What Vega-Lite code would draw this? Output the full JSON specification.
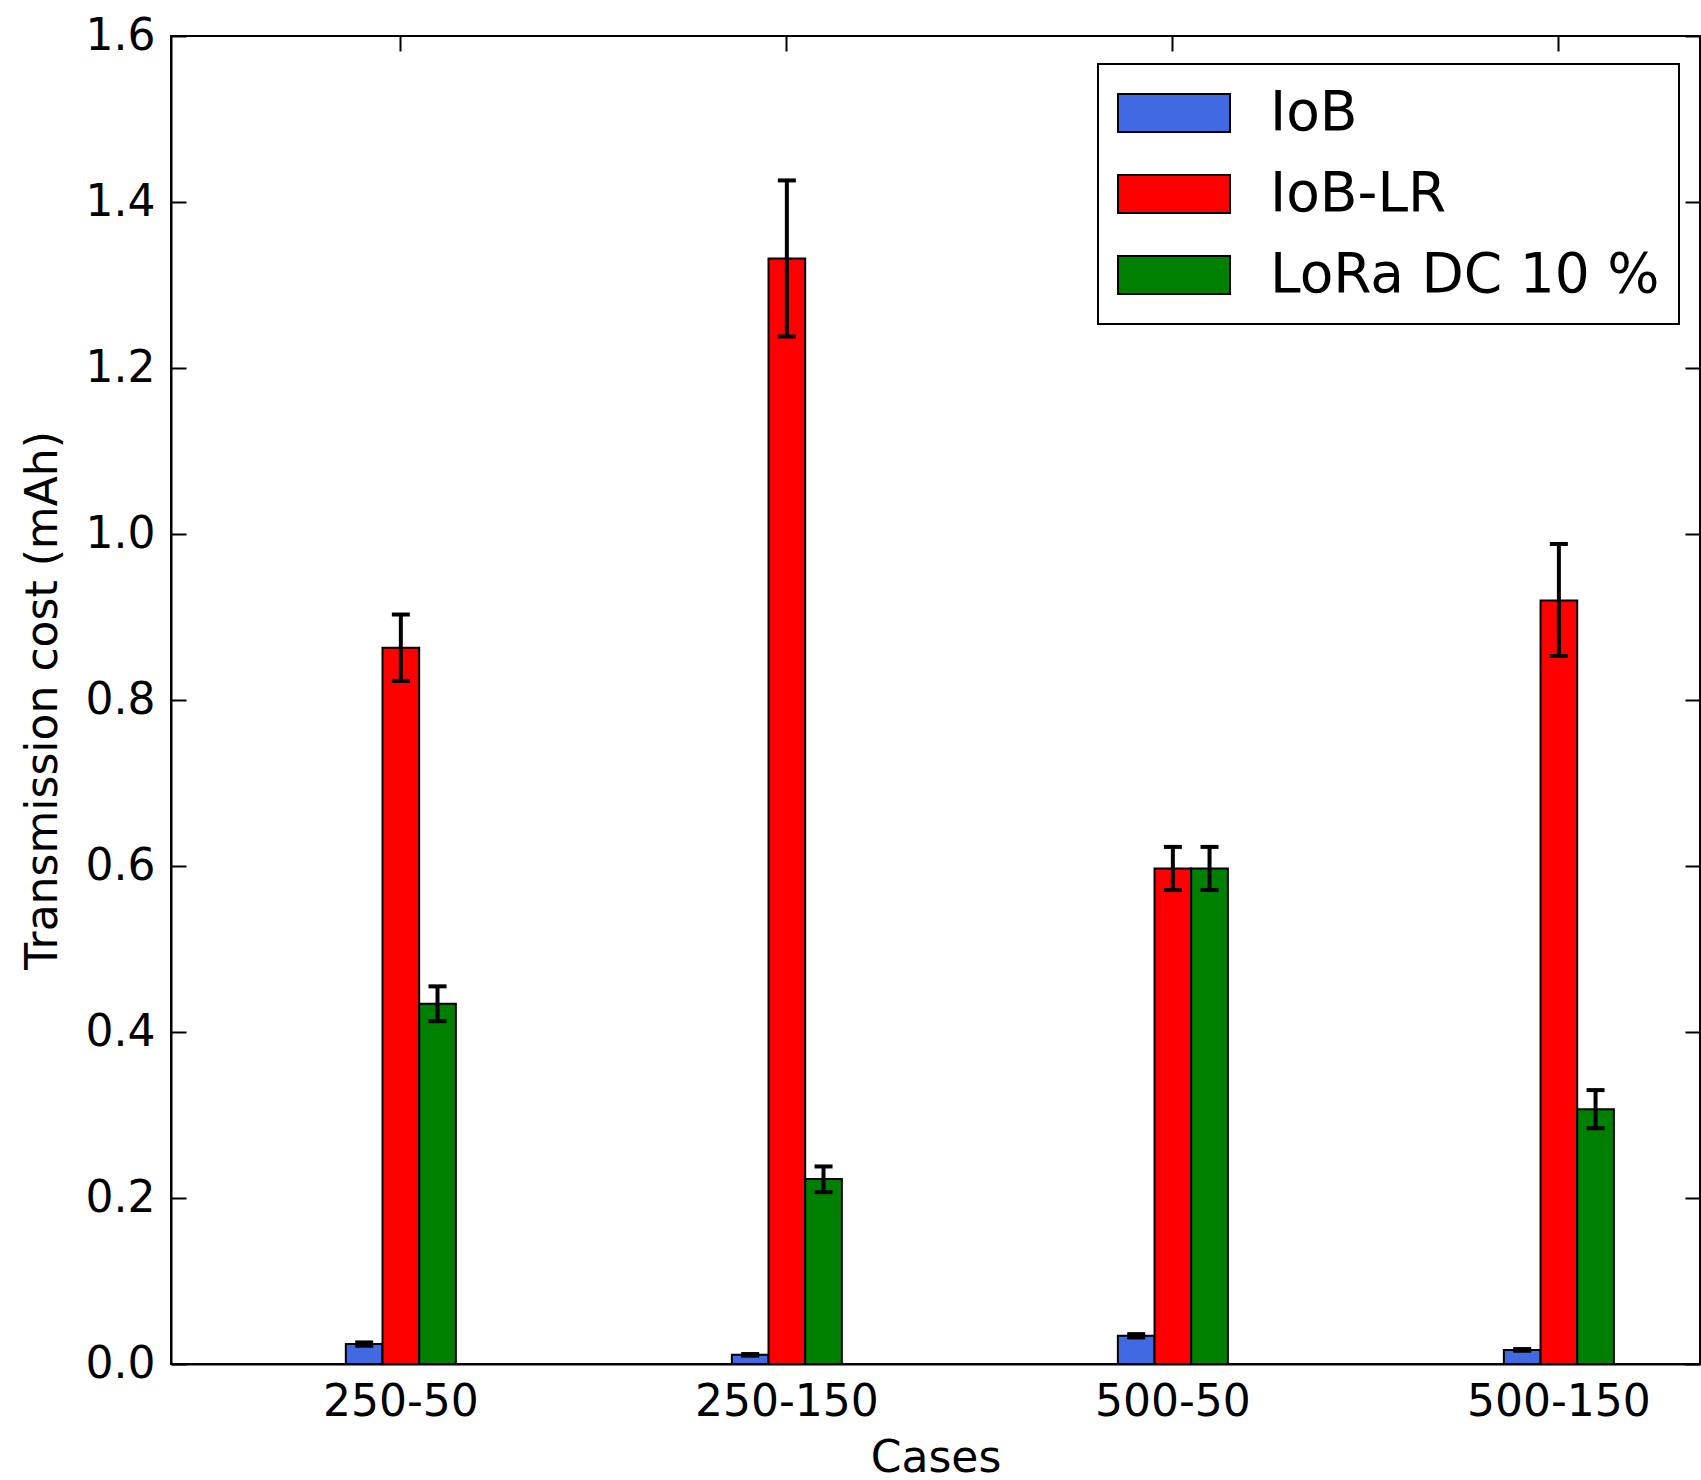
{
  "$schema": "https://vega.github.io/schema/vega-lite/v6.json",
  "width": 1529,
  "height": 1328,
  "autosize": {"type": "none"},
  "padding": {"left": 171, "top": 36, "right": 1, "bottom": 116},
  "background": "white",
  "config": {
    "font": "DejaVu Sans",
    "view": {"stroke": "black", "strokeWidth": 2},
    "axis": {
      "grid": false,
      "zindex": 1,
      "domainColor": "black",
      "domainWidth": 2,
      "tickColor": "black",
      "tickWidth": 2,
      "tickSize": -15,
      "labelFont": "DejaVu Sans",
      "labelFontSize": 44,
      "labelColor": "black",
      "labelLimit": 1000,
      "titleFont": "DejaVu Sans",
      "titleFontSize": 44,
      "titleFontWeight": "normal",
      "titleColor": "black"
    },
    "legend": {"strokeWidth": 2}
  },
  "data": {
    "values": [
      {"case": "250-50", "series": "IoB", "value": 0.024, "lo": 0.022, "hi": 0.026},
      {"case": "250-50", "series": "IoB-LR", "value": 0.863, "lo": 0.823, "hi": 0.903},
      {"case": "250-50", "series": "LoRa DC 10 %", "value": 0.434, "lo": 0.413, "hi": 0.455},
      {"case": "250-150", "series": "IoB", "value": 0.011, "lo": 0.010, "hi": 0.012},
      {"case": "250-150", "series": "IoB-LR", "value": 1.332, "lo": 1.238, "hi": 1.426},
      {"case": "250-150", "series": "LoRa DC 10 %", "value": 0.223, "lo": 0.207, "hi": 0.238},
      {"case": "500-50", "series": "IoB", "value": 0.034, "lo": 0.032, "hi": 0.036},
      {"case": "500-50", "series": "IoB-LR", "value": 0.597, "lo": 0.571, "hi": 0.623},
      {"case": "500-50", "series": "LoRa DC 10 %", "value": 0.597, "lo": 0.571, "hi": 0.623},
      {"case": "500-150", "series": "IoB", "value": 0.017, "lo": 0.016, "hi": 0.018},
      {"case": "500-150", "series": "IoB-LR", "value": 0.920, "lo": 0.853, "hi": 0.988},
      {"case": "500-150", "series": "LoRa DC 10 %", "value": 0.307, "lo": 0.284, "hi": 0.330}
    ]
  },
  "layer": [
    {
      "mark": {"type": "bar", "stroke": "black", "strokeWidth": 2, "opacity": 1},
      "encoding": {
        "x": {
          "field": "case", "type": "nominal",
          "sort": ["250-50", "250-150", "500-50", "500-150"],
          "scale": {"paddingInner": 0.715, "paddingOuter": 0.338, "align": 0.67},
          "axis": {"orient": "bottom", "title": "Cases", "labelAngle": 0, "labelPadding": 31, "titlePadding": 12, "labelLimit": 1000}
        },
        "xOffset": {
          "field": "series", "type": "nominal",
          "sort": ["IoB", "IoB-LR", "LoRa DC 10 %"],
          "scale": {"paddingInner": 0, "paddingOuter": 0}
        },
        "y": {
          "field": "value", "type": "quantitative", "stack": null,
          "scale": {"domain": [0, 1.6], "nice": false},
          "axis": {"orient": "left", "values": [0, 0.2, 0.4, 0.6, 0.8, 1.0, 1.2, 1.4, 1.6], "format": ".1f", "title": "Transmission cost (mAh)", "labelPadding": 31, "titlePadding": 20}
        },
        "color": {
          "field": "series", "type": "nominal",
          "sort": ["IoB", "IoB-LR", "LoRa DC 10 %"],
          "scale": {"domain": ["IoB", "IoB-LR", "LoRa DC 10 %"], "range": ["#4169E1", "#FF0000", "#008000"]},
          "legend": {
            "title": null,
            "orient": "none",
            "legendX": 927,
            "legendY": 28,
            "symbolType": "M-1,-0.34H1V0.34H-1Z",
            "symbolSize": 12544,
            "symbolStrokeColor": "black",
            "symbolStrokeWidth": 2,
            "symbolOpacity": 1,
            "labelFont": "DejaVu Sans",
            "labelFontSize": 55,
            "labelColor": "black",
            "labelOffset": 39,
            "labelLimit": 800,
            "clipHeight": 60,
            "rowPadding": 21,
            "padding": 19,
            "strokeColor": "black",
            "fillColor": "white",
            "encode": {"symbols": {"update": {"stroke": {"value": "black"}, "strokeWidth": {"value": 2}}}}
          }
        }
      }
    },
    {
      "mark": {"type": "rule", "color": "black", "strokeWidth": 4, "opacity": 1},
      "encoding": {
        "x": {
          "field": "case", "type": "nominal",
          "sort": ["250-50", "250-150", "500-50", "500-150"],
          "axis": {"orient": "top", "labels": false, "title": null, "domain": false}
        },
        "xOffset": {"field": "series", "type": "nominal", "sort": ["IoB", "IoB-LR", "LoRa DC 10 %"]},
        "y": {
          "field": "lo", "type": "quantitative",
          "axis": {"orient": "right", "labels": false, "title": null, "domain": false, "values": [0, 0.2, 0.4, 0.6, 0.8, 1.0, 1.2, 1.4, 1.6]}
        },
        "y2": {"field": "hi"}
      }
    },
    {
      "mark": {"type": "tick", "color": "black", "thickness": 4, "size": 18, "opacity": 1},
      "encoding": {
        "x": {"field": "case", "type": "nominal", "sort": ["250-50", "250-150", "500-50", "500-150"], "axis": null},
        "xOffset": {"field": "series", "type": "nominal", "sort": ["IoB", "IoB-LR", "LoRa DC 10 %"]},
        "y": {"field": "lo", "type": "quantitative", "axis": null}
      }
    },
    {
      "mark": {"type": "tick", "color": "black", "thickness": 4, "size": 18, "opacity": 1},
      "encoding": {
        "x": {"field": "case", "type": "nominal", "sort": ["250-50", "250-150", "500-50", "500-150"], "axis": null},
        "xOffset": {"field": "series", "type": "nominal", "sort": ["IoB", "IoB-LR", "LoRa DC 10 %"]},
        "y": {"field": "hi", "type": "quantitative", "axis": null}
      }
    }
  ],
  "resolve": {"axis": {"x": "independent", "y": "independent"}}
}
